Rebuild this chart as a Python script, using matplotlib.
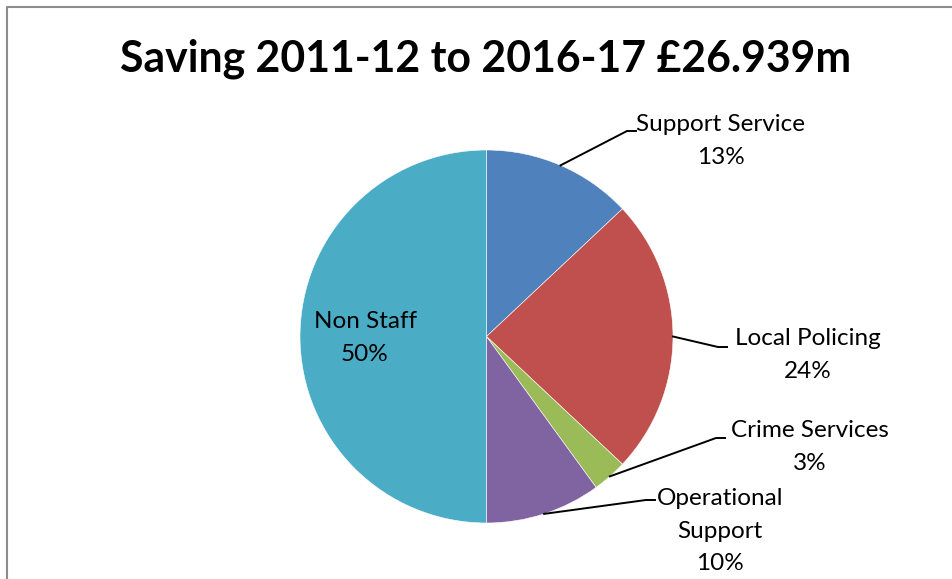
import numpy as np
import matplotlib
matplotlib.use("Agg")
import matplotlib.pyplot as plt

matplotlib.rcParams.update({'font.family': ['Lato', 'DejaVu Sans']})

# chart data
categories = ["Support Service", "Local Policing", "Crime Services",
              "Operational\nSupport", "Non Staff"]
shares = [13, 24, 3, 10, 50]
colors = ["#4F81BD", "#C0504D", "#9BBB59", "#8064A2", "#4BACC6"]
title = "Saving 2011-12 to 2016-17 £26.939m"

W, H = 952, 579
fig = plt.figure(figsize=(W / 100, H / 100), dpi=100)
ax = fig.add_axes([0, 0, 1, 1])

# chart frame (cropped on the right and bottom)
ax.plot([6.5, 6.5, W], [0, H - 6.5, H - 6.5], color="#8c8c8c", lw=1.5,
        solid_capstyle="butt")

cx, cy, r = 486.5, H - 336.5, 186.5
wedges, _ = ax.pie(shares, colors=colors, startangle=90, counterclock=False,
                   center=(cx, cy), radius=r, frame=True,
                   wedgeprops=dict(edgecolor="white", linewidth=0.4))
ax.set_xlim(0, W)
ax.set_ylim(0, H)
ax.set_aspect("auto")
ax.set_axis_off()

ax.text(486, H - 59, title, ha="center", va="center", fontsize=30.8,
        fontweight="bold")

# label text centre and leader elbow, in image pixels (None = inside label)
label_pos = [(721, 141), (808, 355), (810, 447), (720, 531), (365, 338)]
elbows = [(627, 131), (718, 347), (716, 438), (646, 500), None]

for w, cat, val, (tx, ty), elb in zip(wedges, categories, shares, label_pos, elbows):
    ax.text(tx, H - ty, f"{cat}\n{val}%", ha="center", va="center",
            fontsize=17.5, linespacing=1.68)
    if elb is None:
        continue
    mid = np.deg2rad((w.theta1 + w.theta2) / 2)
    sx, sy = cx + r * np.cos(mid), cy + r * np.sin(mid)
    ex, ey = elb
    ax.plot([sx, ex, ex + 9], [sy, H - ey, H - ey], color="black", lw=1.4)

fig.savefig("out.png", dpi=100, facecolor="white")
